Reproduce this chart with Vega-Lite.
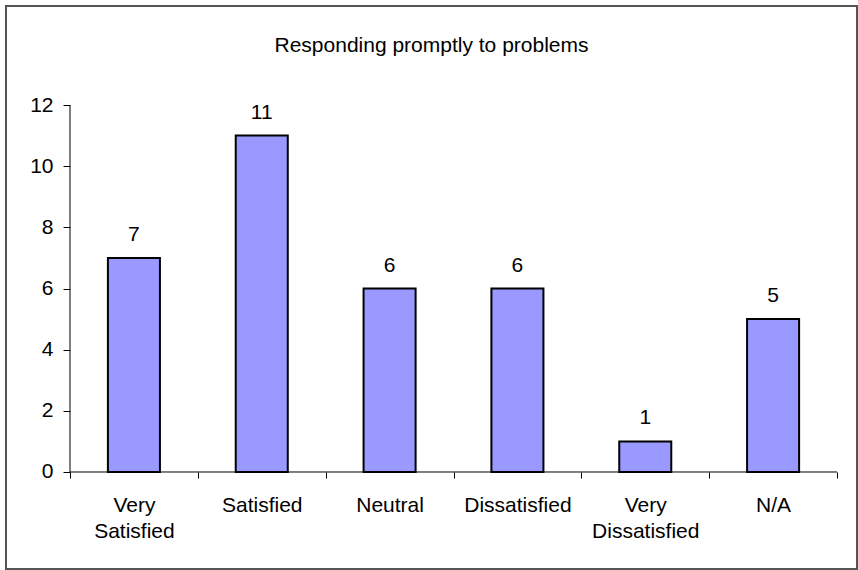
{
  "$schema": "https://vega.github.io/schema/vega-lite/v6.json",
  "width": 851,
  "height": 563,
  "padding": {"left": 6, "top": 6, "right": 1, "bottom": 1},
  "autosize": {"type": "none"},
  "background": "white",
  "config": {
    "font": "Liberation Sans",
    "view": {"stroke": "#555555", "strokeWidth": 2},
    "axis": {
      "grid": false,
      "labelFont": "Liberation Sans",
      "labelFontSize": 21,
      "labelColor": "black",
      "tickColor": "black",
      "tickOpacity": 1,
      "tickWidth": 1,
      "domain": false,
      "title": null
    }
  },
  "title": {
    "text": "Responding promptly to problems",
    "fontSize": 21,
    "fontWeight": "normal",
    "font": "Liberation Sans",
    "color": "black",
    "anchor": "middle",
    "baseline": "alphabetic",
    "offset": -67
  },
  "data": {
    "values": [
      {"rating": "Very Satisfied", "count": 7},
      {"rating": "Satisfied", "count": 11},
      {"rating": "Neutral", "count": 6},
      {"rating": "Dissatisfied", "count": 6},
      {"rating": "Very Dissatisfied", "count": 1},
      {"rating": "N/A", "count": 5}
    ]
  },
  "layer": [
    {
      "mark": {
        "type": "bar",
        "width": {"band": 0.407},
        "fill": "#9999FF",
        "stroke": "black",
        "strokeWidth": 2
      },
      "encoding": {
        "x": {
          "field": "rating",
          "type": "nominal",
          "sort": null,
          "scale": {
            "domain": ["Very Satisfied", "Satisfied", "Neutral", "Dissatisfied", "Very Dissatisfied", "N/A"],
            "paddingInner": 0,
            "paddingOuter": 0.3285,
            "align": 0.762
          },
          "axis": {
            "orient": "bottom",
            "offset": -97,
            "labelAngle": 0,
            "tickBand": "extent",
            "tickSize": 6,
            "labelPadding": 16,
            "labelLineHeight": 26,
            "labelExpr": "indexof(datum.label, 'Very ') == 0 ? ['Very', substring(datum.label, 5)] : datum.label"
          }
        },
        "y": {
          "field": "count",
          "type": "quantitative",
          "scale": {"domain": [-3.172, 15.238], "nice": false, "zero": false},
          "axis": {
            "offset": -64,
            "values": [0, 2, 4, 6, 8, 10, 12],
            "tickSize": 7,
            "labelPadding": 10
          }
        },
        "y2": {"datum": 0}
      }
    },
    {
      "mark": {
        "type": "text",
        "fontSize": 21,
        "color": "black",
        "baseline": "alphabetic",
        "dy": -17
      },
      "encoding": {
        "x": {"field": "rating", "type": "nominal", "sort": null},
        "y": {"field": "count", "type": "quantitative"},
        "text": {"field": "count", "type": "quantitative"}
      }
    },
    {
      "data": {"values": [{"start": "Very Satisfied", "end": "N/A", "level": 0}]},
      "mark": {"type": "rule", "color": "black", "strokeWidth": 1},
      "encoding": {
        "x": {"field": "start", "type": "nominal", "bandPosition": 0},
        "x2": {"field": "end", "bandPosition": 1},
        "y": {"field": "level", "type": "quantitative"}
      }
    },
    {
      "data": {"values": [{"start": "Very Satisfied", "low": 0, "high": 12}]},
      "mark": {"type": "rule", "color": "black", "strokeWidth": 1},
      "encoding": {
        "x": {"field": "start", "type": "nominal", "bandPosition": 0},
        "y": {"field": "low", "type": "quantitative"},
        "y2": {"field": "high"}
      }
    }
  ]
}
